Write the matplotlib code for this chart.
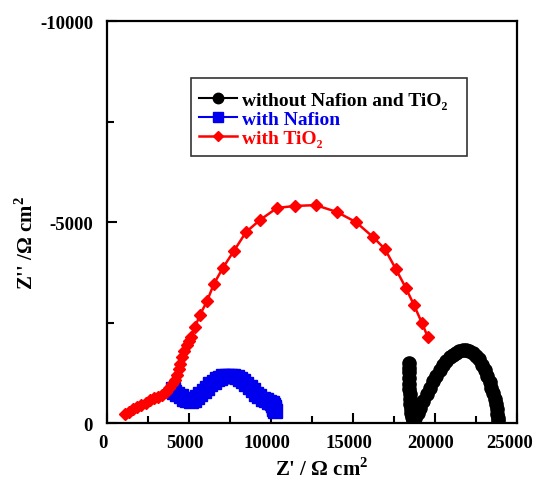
import matplotlib
matplotlib.use("Agg")
import matplotlib.pyplot as plt
import matplotlib.transforms as mtransforms
from matplotlib.patches import Rectangle
import numpy as np

plt.rcParams["font.family"] = ["Liberation Serif", "DejaVu Serif"]
plt.rcParams["font.weight"] = "bold"
plt.rcParams["mathtext.fontset"] = "custom"
plt.rcParams["mathtext.rm"] = "Liberation Serif:bold"
plt.rcParams["mathtext.bf"] = "Liberation Serif:bold"
plt.rcParams["axes.unicode_minus"] = False

# Z' (ohm cm2) and Z'' (ohm cm2) for the three cells
bare_zre = [18450, 18420, 18400, 18400, 18420, 18450, 18460, 18480, 18500, 18520, 18550, 18600, 18680,
            18800, 18950, 19100, 19300, 19500, 19700, 19900, 20100, 20300, 20500, 20700, 20900, 21100,
            21300, 21500, 21700, 21900, 22100, 22300, 22500, 22700, 22900, 23050, 23200, 23350, 23450,
            23550, 23650, 23720, 23780, 23820, 23850, 23860]
bare_zim = [-1500, -1380, -1260, -1120, -980, -850, -720, -600, -480, -360, -250, -140, -70,
            -120, -250, -380, -550, -720, -880, -1040, -1180, -1320, -1440, -1540, -1630, -1700,
            -1750, -1790, -1810, -1810, -1790, -1740, -1670, -1580, -1450, -1320, -1180, -1030, -880,
            -740, -600, -470, -340, -220, -120, -40]

nafion_zre = [4000, 4100, 4300, 4500, 4700, 4900, 5100, 5300, 5500, 5700, 5900, 6100, 6300, 6500,
              6700, 6900, 7100, 7300, 7500, 7700, 7900, 8100, 8300, 8500, 8700, 8900, 9100, 9300,
              9500, 9700, 9900, 10050, 10150, 10200, 10200, 10250]
nafion_zim = [-850, -780, -720, -660, -600, -560, -550, -580, -640, -720, -800, -880, -960, -1030,
              -1090, -1130, -1160, -1180, -1180, -1170, -1140, -1100, -1040, -970, -890, -810, -730, -660,
              -600, -560, -530, -500, -450, -400, -350, -300]

tio2_zre = [1100, 1350, 1600, 1850, 2100, 2350, 2600, 2850, 3100, 3350, 3600, 3800, 3970, 4120,
            4250, 4370, 4480, 4600, 4720, 4850, 4980, 5120, 5370, 5670, 6100, 6520, 7070, 7740,
            8480, 9330, 10370, 11460, 12740, 14020, 15180, 16220, 16950, 17620, 18230, 18720, 19210,
            19570]
tio2_zim = [-220, -280, -340, -390, -450, -510, -560, -610, -650, -700, -770, -860, -960, -1070,
            -1200, -1340, -1480, -1630, -1780, -1930, -2050, -2140, -2390, -2690, -3030, -3460, -3860, -4280,
            -4750, -5050, -5350, -5400, -5420, -5250, -5000, -4630, -4330, -3830, -3360, -2940, -2490,
            -2140]

labels = ["without Nafion and TiO\u2082", "with Nafion", "with TiO\u2082"]
colors = ["black", "#0000ee", "#ff0000"]

fig = plt.figure(figsize=(5.34, 4.81), dpi=100)
ax = fig.add_axes([0.2004, 0.1185, 0.7674, 0.8357])

ax.plot(bare_zre, bare_zim, color=colors[0], marker="o", markersize=9.5, lw=1.5, label=labels[0])
ax.plot(nafion_zre, nafion_zim, color=colors[1], marker="s", markersize=9.5, lw=1.5, label=labels[1])
ax.plot(tio2_zre, tio2_zim, color=colors[2], marker="D", markersize=6.5, lw=1.8, label=labels[2])

ax.set_xlim(0, 25000)
ax.set_ylim(0, -10000)
ax.set_xticks([0, 5000, 10000, 15000, 20000, 25000])
ax.set_xticks(np.arange(2500, 25000, 5000), minor=True)
ax.set_yticks([0, -5000, -10000])
ax.set_yticks([-2500, -7500], minor=True)
ax.tick_params(which="both", direction="in", width=1.5, labelsize=13.5)
ax.tick_params(axis="x", pad=8)
ax.tick_params(axis="y", pad=10)
ax.tick_params(which="major", length=7)
ax.tick_params(which="minor", length=5)
for s in ax.spines.values():
    s.set_linewidth(1.6)

# nudge the x tick labels a little to the left
xlabels = ax.get_xticklabels()
for i, lab in enumerate(xlabels):
    dx = -7 if i == len(xlabels) - 1 else -4
    lab.set_transform(lab.get_transform() + mtransforms.ScaledTranslation(dx / 100, 0, fig.dpi_scale_trans))

ax.set_xlabel("Z' / \u03a9 cm$^{2}$", fontsize=15, fontweight="bold")
ax.set_ylabel("Z'' /\u03a9 cm$^{2}$", fontsize=15, fontweight="bold")
ax.xaxis.set_label_coords(0.524, -0.085)
ax.yaxis.set_label_coords(-0.17, 0.45)

leg = ax.legend(loc="upper left", bbox_to_anchor=(0.224, 0.826), fontsize=14,
                frameon=False, handlelength=1.96, handletextpad=0.26, borderpad=0,
                labelspacing=0.07, borderaxespad=0)
for txt, c in zip(leg.get_texts(), colors):
    txt.set_color(c)
for h, ms in zip(leg.legend_handles, [7.5, 6.5, 5]):
    h.set_markersize(ms)

ax.add_patch(Rectangle((0.205, 0.664), 0.673, 0.194, transform=ax.transAxes,
                       fill=False, edgecolor="#333333", lw=1.2, zorder=5))

fig.savefig("out.png", dpi=100)
